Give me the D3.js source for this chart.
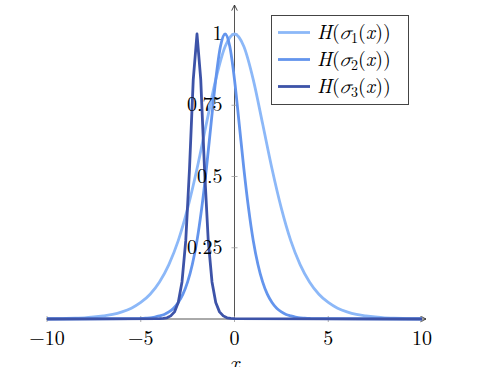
<!DOCTYPE html>
<html>
<head>
<meta charset="utf-8">
<script src="https://cdn.jsdelivr.net/npm/d3@7"></script>
<style>
  body { margin: 0; background: #fff; }
</style>
</head>
<body>
<script>
// values
const x1 = [-10,-9.5,-9,-8.5,-8,-7.5,-7,-6.5,-6,-5.5,-5,-4.5,-4,-3.5,-3,-2.5,-2,-1.5,-1,-0.5,0,
            0.5,1,1.5,2,2.5,3,3.5,4,4.5,5,5.5,6,6.5,7,7.5,8,8.5,9,9.5,10];
const y1 = [0.001,0.001,0.002,0.003,0.004,0.007,0.011,0.016,0.025,0.038,0.058,0.087,0.130,0.191,0.275,0.388,0.527,0.685,0.840,0.956,1,
            0.956,0.840,0.685,0.527,0.388,0.275,0.191,0.130,0.087,0.058,0.038,0.025,0.016,0.011,0.007,0.004,0.003,0.002,0.001,0.001];

const x2 = [-10,-5.5,-5.25,-5,-4.75,-4.5,-4.25,-4,-3.75,-3.5,-3.25,-3,-2.75,-2.5,-2.25,-2,-1.75,-1.5,-1.25,-1,-0.75,-0.5,
            -0.25,0,0.25,0.5,0.75,1,1.25,1.5,1.75,2,2.25,2.5,2.75,3,3.25,3.5,3.75,4,4.25,4.5,10];
const y2 = [0,0.001,0.001,0.002,0.003,0.004,0.007,0.011,0.016,0.025,0.038,0.058,0.087,0.130,0.191,0.275,0.388,0.527,0.685,0.840,0.956,1,
            0.956,0.840,0.685,0.527,0.388,0.275,0.191,0.130,0.087,0.058,0.038,0.025,0.016,0.011,0.007,0.004,0.003,0.002,0.001,0.001,0];

const x3 = [-10,-4,-3.8,-3.6,-3.4,-3.2,-3,-2.8,-2.6,-2.4,-2.2,-2,-1.8,-1.6,-1.4,-1.2,-1,-0.8,-0.6,-0.4,-0.2,0,10];
const y3 = [0,0.001,0.002,0.004,0.011,0.025,0.058,0.130,0.275,0.527,0.840,1,0.840,0.527,0.275,0.130,0.058,0.025,0.011,0.004,0.002,0.001,0];

const seriesNames = ["1", "2", "3"];
const colors = ["#8cb8f8", "#6495ed", "#3d53a8"];
const xTicks = [-10, -5, 0, 5, 10];
const yTicks = [0.25, 0.5, 0.75, 1];
const yTickLabels = ["0.25", "0.5", "0.75", "1"];

const width = 477, height = 367;
const serif = "'Latin Modern Roman', 'CMU Serif', 'Liberation Serif', 'DejaVu Serif', 'Noto Serif', Tinos, FreeSerif, 'Nimbus Roman', Times, serif";
const mathItalic = "'Latin Modern Math', 'CMU Serif', 'DejaVu Serif', 'Liberation Serif', serif";

const x = d3.scaleLinear().domain([-10, 10]).range([47, 422]);
const y = d3.scaleLinear().domain([0, 1]).range([319, 34]);

const svg = d3.select("body").append("svg")
  .attr("width", width)
  .attr("height", height)
  .style("font-family", serif);

const defs = svg.append("defs");
defs.append("marker")
  .attr("id", "arrow")
  .attr("viewBox", "0 0 10 10")
  .attr("refX", 9).attr("refY", 5)
  .attr("markerWidth", 7).attr("markerHeight", 7)
  .attr("markerUnits", "userSpaceOnUse")
  .attr("orient", "auto")
  .append("path")
  .attr("d", "M1,1 L9,5 L1,9")
  .attr("fill", "none")
  .attr("stroke", "#333")
  .attr("stroke-width", 1.3);

const axisColor = "#555";

// axis lines (pgfplots "middle" style)
svg.append("line")
  .attr("x1", x(-10) - 1).attr("x2", x(10) + 4)
  .attr("y1", y(0)).attr("y2", y(0))
  .attr("stroke", axisColor).attr("stroke-width", 1)
  .attr("marker-end", "url(#arrow)");

svg.append("line")
  .attr("x1", x(0)).attr("x2", x(0))
  .attr("y1", y(0)).attr("y2", 5)
  .attr("stroke", axisColor).attr("stroke-width", 1)
  .attr("marker-end", "url(#arrow)");

// ticks
svg.selectAll(".xtick")
  .data(xTicks)
  .join("line")
  .attr("class", "xtick")
  .attr("x1", (d) => x(d)).attr("x2", (d) => x(d))
  .attr("y1", y(0) - 3).attr("y2", y(0) + 3)
  .attr("stroke", "#999").attr("stroke-width", 0.8);

svg.selectAll(".ytick")
  .data(yTicks)
  .join("line")
  .attr("class", "ytick")
  .attr("x1", x(0) - 3).attr("x2", x(0) + 3)
  .attr("y1", (d) => y(d)).attr("y2", (d) => y(d))
  .attr("stroke", "#999").attr("stroke-width", 0.8);

// curves
const lineSmooth = d3.line()
  .x((d) => x(d[0]))
  .y((d) => y(d[1]))
  .curve(d3.curveMonotoneX);

const lineStraight = d3.line()
  .x((d) => x(d[0]))
  .y((d) => y(d[1]));

const curves = [
  {pts: d3.zip(x1, y1), gen: lineSmooth},
  {pts: d3.zip(x2, y2), gen: lineSmooth},
  {pts: d3.zip(x3, y3), gen: lineStraight}
];

svg.selectAll(".curve")
  .data(curves)
  .join("path")
  .attr("class", "curve")
  .attr("d", (d) => d.gen(d.pts))
  .attr("fill", "none")
  .attr("stroke", (d, i) => colors[i])
  .attr("stroke-width", 2.8)
  .attr("stroke-linejoin", "round");

// tick labels
svg.selectAll(".xlabel")
  .data(xTicks)
  .join("text")
  .attr("class", "xlabel")
  .attr("x", (d) => x(d))
  .attr("y", 345)
  .attr("text-anchor", "middle")
  .style("font-size", "20px")
  .text((d) => d < 0 ? "\u2212" + Math.abs(d) : d);

svg.selectAll(".ylabel")
  .data(yTicks)
  .join("text")
  .attr("class", "ylabel")
  .attr("x", x(0) - 12)
  .attr("y", (d) => y(d) + 6)
  .attr("text-anchor", "end")
  .style("font-size", "20px")
  .text((d, i) => yTickLabels[i]);

// axis label (only its top shows, as in the original)
svg.append("text")
  .attr("x", x(0))
  .attr("y", 369.5)
  .attr("text-anchor", "middle")
  .style("font-size", "21px")
  .style("font-style", "italic")
  .text("x");

// legend
const legend = svg.append("g").attr("transform", "translate(271,15)");
legend.append("rect")
  .attr("x", 0.5).attr("y", 0.5)
  .attr("width", 137).attr("height", 89)
  .attr("fill", "#fff")
  .attr("stroke", "#444")
  .attr("stroke-width", 1);

const rows = legend.selectAll(".row")
  .data(seriesNames)
  .join("g")
  .attr("class", "row")
  .attr("transform", (d, i) => `translate(0,${17.5 + i * 27})`);

rows.append("line")
  .attr("x1", 7).attr("x2", 39)
  .attr("y1", 0).attr("y2", 0)
  .attr("stroke", (d, i) => colors[i])
  .attr("stroke-width", 2.8);

const label = rows.append("text")
  .attr("x", 46)
  .attr("y", 6)
  .style("font-size", "20px");

label.append("tspan").style("font-style", "italic").text("H");
label.append("tspan").text("(");
label.append("tspan").style("font-style", "italic").style("font-family", mathItalic).text("\u{1D70E}");
label.append("tspan").attr("dy", 4).style("font-size", "14px").text((d) => d);
label.append("tspan").attr("dy", -4).text("(");
label.append("tspan").style("font-style", "italic").text("x");
label.append("tspan").text("))");
</script>
</body>
</html>
